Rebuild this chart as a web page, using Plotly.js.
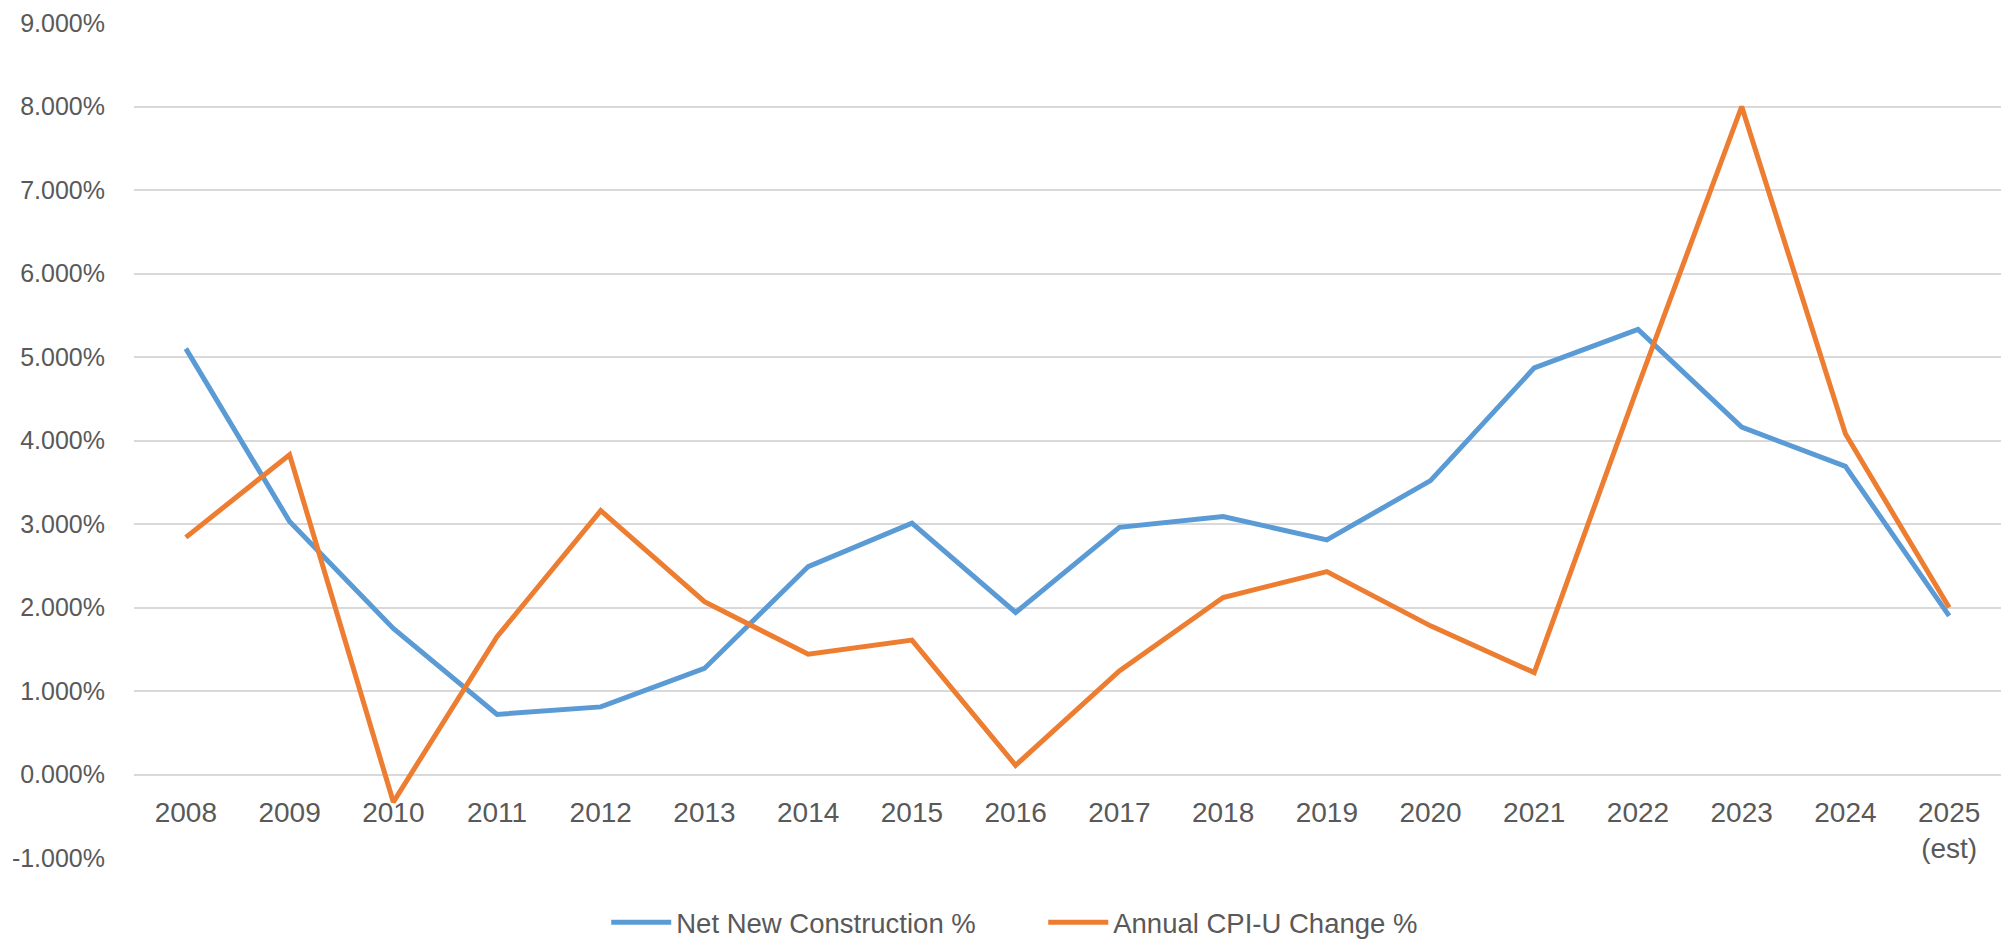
<!DOCTYPE html>
<html>
<head>
<meta charset="utf-8">
<script src="https://cdn.plot.ly/plotly-3.0.1.min.js"></script>
<style>html,body{margin:0;padding:0;background:#fff;}</style>
</head>
<body>
<div id="chart" style="width:2011px;height:941px;"></div>
<script>
const years = ["2008","2009","2010","2011","2012","2013","2014","2015","2016","2017","2018","2019","2020","2021","2022","2023","2024","2025"];
const yearLabels = ["2008","2009","2010","2011","2012","2013","2014","2015","2016","2017","2018","2019","2020","2021","2022","2023","2024","2025<br>(est)"];
const netNewConstruction = [5.10, 3.03, 1.75, 0.72, 0.81, 1.27, 2.49, 3.01, 1.94, 2.96, 3.09, 2.81, 3.52, 4.87, 5.33, 4.16, 3.69, 1.90];
const annualCpiU = [2.84, 3.83, -0.33, 1.65, 3.16, 2.07, 1.44, 1.61, 0.11, 1.24, 2.12, 2.43, 1.78, 1.22, 4.65, 8.00, 4.08, 2.00];
const yTickVals = [-1,0,1,2,3,4,5,6,7,8,9];
const yTickText = ["-1.000%","0.000%","1.000%","2.000%","3.000%","4.000%","5.000%","6.000%","7.000%","8.000%","9.000%"];

const traces = [
  {x: years, y: netNewConstruction, type: 'scatter', mode: 'lines', name: 'Net New Construction %',
   line: {color: '#5B9BD5', width: 5}},
  {x: years, y: annualCpiU, type: 'scatter', mode: 'lines', name: 'Annual CPI-U Change %',
   line: {color: '#ED7D31', width: 5}}
];

const font = '"Liberation Sans", Arial, sans-serif';
const layout = {
  width: 2011, height: 941,
  margin: {l: 134, r: 10, t: 23, b: 83, autoexpand: false},
  paper_bgcolor: '#ffffff', plot_bgcolor: '#ffffff',
  showlegend: true,
  legend: {orientation: 'h', x: 0.487, xanchor: 'center', y: -0.077, yanchor: 'middle',
           font: {family: font, size: 27.5, color: '#595959'},
           itemwidth: 60, entrywidth: 362, entrywidthmode: 'pixels', bgcolor: 'rgba(0,0,0,0)'},
  xaxis: {type: 'category', tickvals: years, ticktext: yearLabels, range: [-0.5, 17.5],
          showgrid: false, zeroline: false, showline: false, ticks: '',
          anchor: 'free', position: 0.1, ticklabelstandoff: 18,
          tickfont: {family: font, size: 28, color: '#595959'}},
  yaxis: {range: [-1, 9], tickvals: yTickVals, ticktext: yTickText,
          showgrid: true, gridcolor: '#d9d9d9', gridwidth: 2, zeroline: false, showline: false, ticks: '',
          ticklabelstandoff: 28,
          tickfont: {family: font, size: 25, color: '#595959'}}
};

Plotly.newPlot('chart', traces, layout, {staticPlot: true, displayModeBar: false});
</script>
</body>
</html>
